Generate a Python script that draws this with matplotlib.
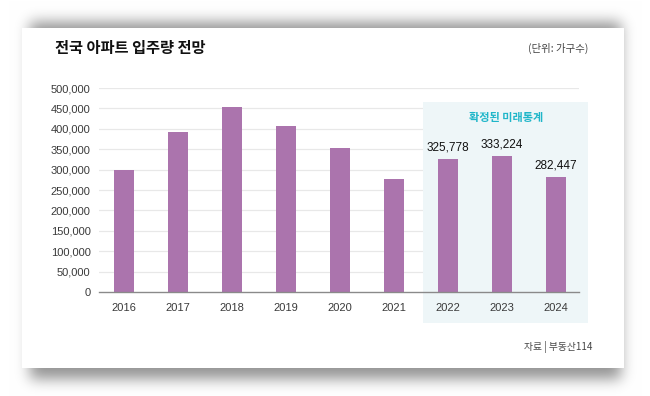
import numpy as np
import matplotlib
matplotlib.use("Agg")
import matplotlib.pyplot as plt
from matplotlib.patches import Rectangle

# ---- data ----
years = ["2016", "2017", "2018", "2019", "2020", "2021", "2022", "2023", "2024"]
values = [300000, 391000, 453000, 407000, 353000, 277000, 325778, 333224, 282447]
labeled = [False, False, False, False, False, False, True, True, True]
yticks = [0, 50000, 100000, 150000, 200000, 250000, 300000, 350000, 400000, 450000, 500000]
title = "전국 아파트 입주량 전망"
unit = "(단위: 가구수)"
panel_title = "확정된 미래통계"
source = "자료 | 부동산114"

W, H = 650, 396
fig = plt.figure(figsize=(W / 100, H / 100), dpi=100)
fig.patch.set_facecolor("white")

KR = ["Noto Sans CJK KR", "DejaVu Sans"]
NUM = ["Liberation Sans", "DejaVu Sans"]

# ---- background with card + soft shadow ----
bg = fig.add_axes([0, 0, 1, 1])
bg.set_xlim(0, W)
bg.set_ylim(H, 0)
bg.axis("off")

yy, xx = np.mgrid[0:H, 0:W]
mask = ((xx >= 30) & (xx <= 620) & (yy >= 22) & (yy <= 378)).astype(float)

def blur(a, s):
    r = int(3 * s)
    k = np.exp(-0.5 * (np.arange(-r, r + 1) / s) ** 2)
    k /= k.sum()
    a = np.apply_along_axis(lambda v: np.convolve(v, k, mode="same"), 0, a)
    a = np.apply_along_axis(lambda v: np.convolve(v, k, mode="same"), 1, a)
    return a

sh = blur(mask, 7.0)
img = 1 - 0.42 * sh
rgb = np.dstack([img, img, img])
bg.imshow(rgb, extent=(0, W, H, 0), zorder=0, interpolation="bilinear")
bg.add_patch(Rectangle((22, 28), 602, 340, facecolor="white", edgecolor="none", zorder=1))

# ---- main chart axes ----
x0, x1 = 99, 579
ytop, ybot = 88, 292
ax = fig.add_axes([x0 / W, (H - ybot) / H, (x1 - x0) / W, (ybot - ytop) / H])
ax.set_facecolor("none")
step = 54.0
xmin = -(124 - x0) / step
ax.set_xlim(xmin, xmin + (x1 - x0) / step)
ax.set_ylim(0, 500000)

# gridlines
for t in yticks[1:]:
    ax.axhline(t, color="#e8e8e8", linewidth=0.9, zorder=0.5)

# shaded "future" panel (covers gridlines, below bars)
ax.add_patch(Rectangle((423 / W, (H - 323) / H), 165 / W, 221 / H,
                       transform=fig.transFigure, facecolor="#eef6f8",
                       edgecolor="none", zorder=0.8, clip_on=False))

pos = np.arange(len(years))
ax.bar(pos, values, width=0.37, color="#ab74ad", zorder=2)

ax.set_yticks(yticks)
ax.set_yticklabels([f"{v:,}" for v in yticks], fontfamily=NUM, fontsize=8, color="#3a3a3a")
ax.set_xticks(pos)
ax.set_xticklabels(years, fontfamily=NUM, fontsize=8, color="#3a3a3a")
ax.tick_params(axis="both", length=0)
ax.tick_params(axis="y", pad=6)
ax.tick_params(axis="x", pad=8)
for s in ["top", "right", "left"]:
    ax.spines[s].set_visible(False)
ax.spines["bottom"].set_color("#8a8a8a")
ax.spines["bottom"].set_linewidth(1.0)
ax.spines["bottom"].set_zorder(3)

fig.text(506 / W, 1 - 117 / H, panel_title, ha="center", va="center",
         fontfamily=KR, fontsize=8, fontweight="bold", color="#1fb6c9")

for p, v, lab in zip(pos, values, labeled):
    if lab:
        ax.annotate(f"{v:,}", (p, v), xytext=(0, 4), textcoords="offset points",
                    ha="center", va="bottom", fontfamily=NUM, fontsize=8.5, color="#111111")

# texts
fig.text(55 / W, 1 - 48 / H, title, ha="left", va="center",
         fontfamily=KR, fontsize=11, fontweight="bold", color="#111111")
fig.text(588 / W, 1 - 48 / H, unit, ha="right", va="center",
         fontfamily=KR, fontsize=7.5, color="#444444")
fig.text(592 / W, 1 - 347 / H, source, ha="right", va="center",
         fontfamily=KR, fontsize=7, color="#444444")

fig.savefig("out.png", dpi=100, facecolor="white")
